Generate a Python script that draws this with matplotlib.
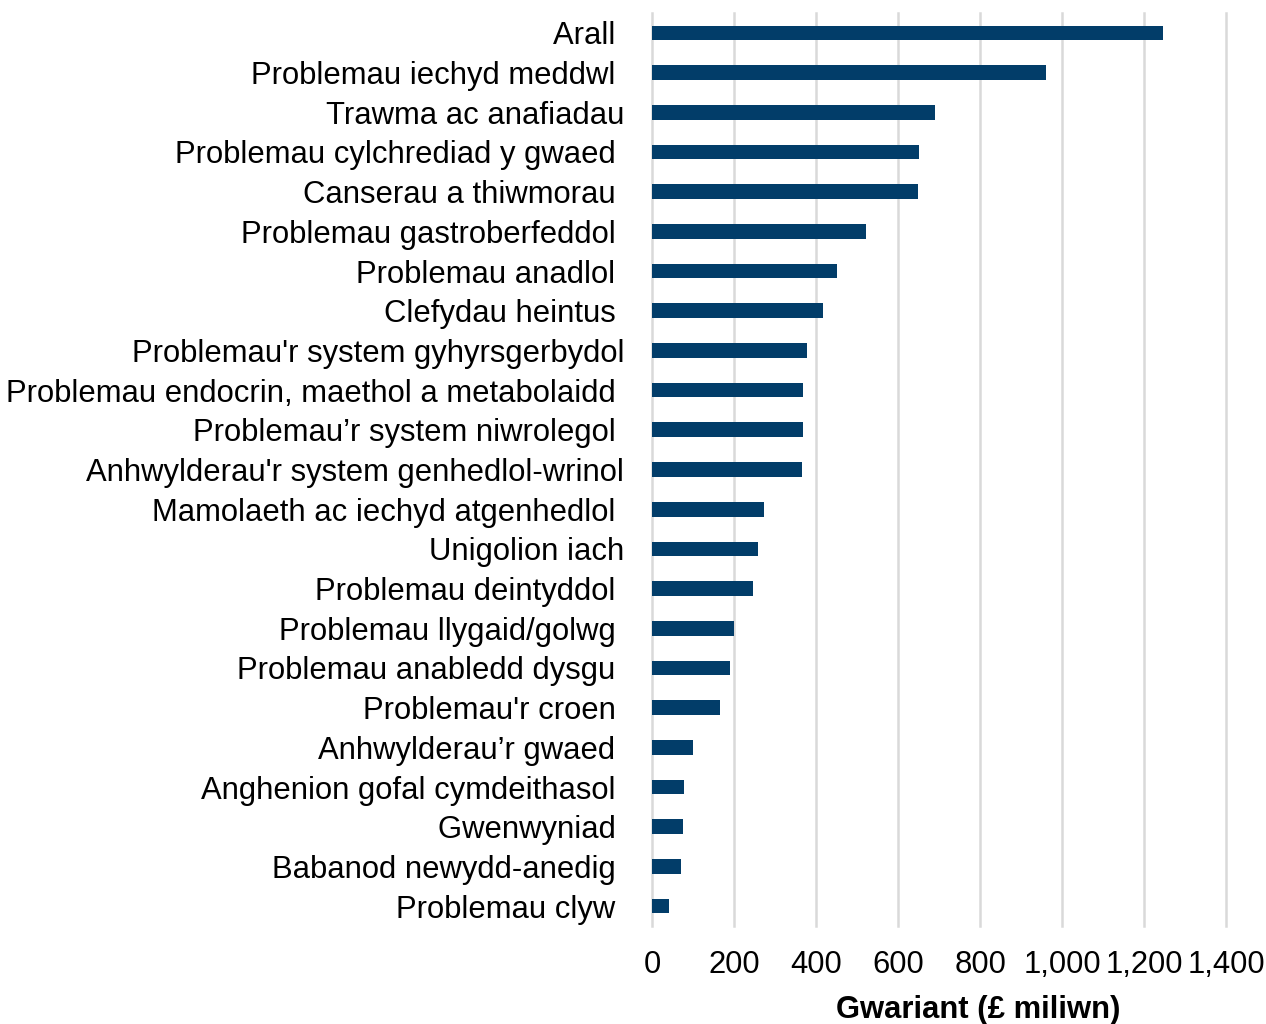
import matplotlib.pyplot as plt

plt.rcParams['font.family'] = ['Liberation Sans', 'DejaVu Sans']

labels = [
    'Arall ',
    'Problemau iechyd meddwl ',
    'Trawma ac anafiadau',
    'Problemau cylchrediad y gwaed ',
    'Canserau a thiwmorau ',
    'Problemau gastroberfeddol ',
    'Problemau anadlol ',
    'Clefydau heintus ',
    "Problemau'r system gyhyrsgerbydol",
    'Problemau endocrin, maethol a metabolaidd ',
    'Problemau\u2019r system niwrolegol ',
    "Anhwylderau'r system genhedlol-wrinol",
    'Mamolaeth ac iechyd atgenhedlol ',
    'Unigolion iach',
    'Problemau deintyddol ',
    'Problemau llygaid/golwg ',
    'Problemau anabledd dysgu ',
    "Problemau'r croen ",
    'Anhwylderau\u2019r gwaed ',
    'Anghenion gofal cymdeithasol ',
    'Gwenwyniad ',
    'Babanod newydd-anedig ',
    'Problemau clyw ',
]
spend = [1245, 961, 689, 650, 649, 523, 452, 418, 379, 369, 369, 366,
         274, 259, 247, 200, 191, 166, 101, 79, 76, 70, 41]
xticks = [0, 200, 400, 600, 800, 1000, 1200, 1400]

FS = 22.3

fig = plt.figure(figsize=(12.66, 10.24), dpi=100)
ax = fig.add_axes([0.515, 0.0957, 0.4535, 0.8916])

y = list(range(len(labels)))
ax.barh(y, spend, height=0.37, color='#023d69', zorder=3)
ax.set_ylim(len(labels) - 0.5, -0.5)
ax.set_yticks(y)
ax.set_yticklabels(labels, fontsize=FS)
ax.tick_params(axis='y', length=0, pad=20)

ax.set_xlim(0, 1400)
ax.set_xticks(xticks)
ax.set_xticklabels(['{:,}'.format(v) for v in xticks], fontsize=FS)
ax.tick_params(axis='x', length=0, pad=17)
ax.grid(axis='x', color='#d9d9d9', linewidth=1.8, zorder=0)
for gl in ax.get_xgridlines():
    gl.set_clip_on(False)

for s in ax.spines.values():
    s.set_visible(False)

ax.set_xlabel('Gwariant (£ miliwn)', fontsize=FS, fontweight='bold')
ax.xaxis.set_label_coords(0.568, -0.076)

fig.savefig('out.png')
